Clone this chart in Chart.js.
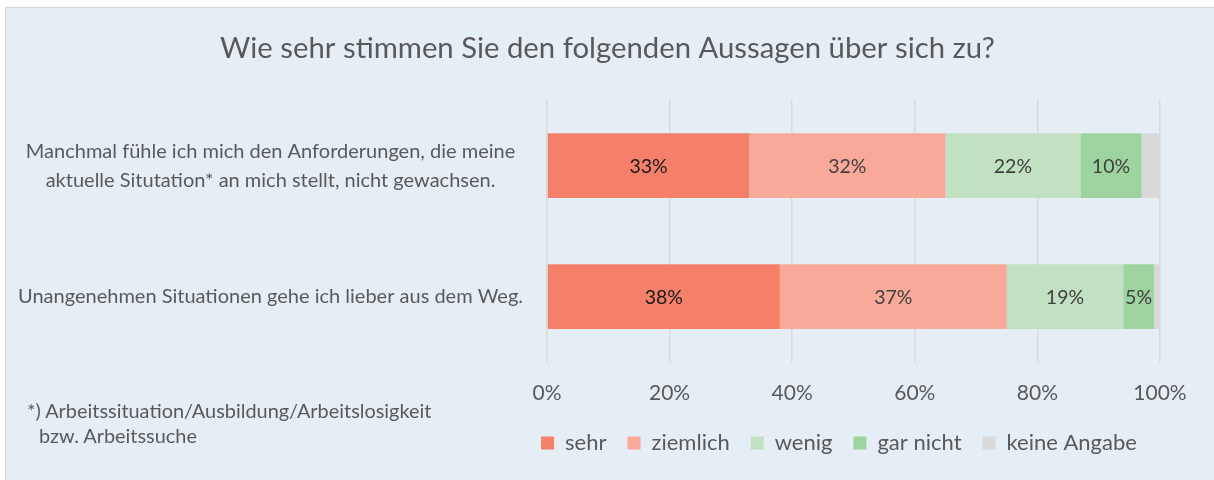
<!DOCTYPE html>
<html>
<head>
<meta charset="utf-8">
<script src="https://cdn.jsdelivr.net/npm/chart.js@4/dist/chart.umd.min.js"></script>
<style>
    html, body { margin: 0; padding: 0; background: #ffffff; }
    #wrap {
        position: absolute; left: 5px; top: 7px; width: 1208px; height: 472px;
        background: #e6eef5; border-top: 1px solid #d6d6d6; border-left: 1px solid #d6d6d6;
    }
    #footnote {
        position: absolute; left: 21px; top: 390px;
        font-family: 'Lato', sans-serif; font-size: 19.9px; line-height: 25px; color: #595959;
    }
    #footnote span { padding-left: 12px; }
</style>
</head>
<body>
<div id="wrap">
    <canvas id="surveyChart" width="1208" height="472"></canvas>
    <div id="footnote">*) Arbeitssituation/Ausbildung/Arbeitslosigkeit<br><span>bzw. Arbeitssuche</span></div>
</div>
<script>
// Chart data
const statements = [
    ['Manchmal fühle ich mich den Anforderungen, die meine', 'aktuelle Situtation* an mich stellt, nicht gewachsen.'],
    'Unangenehmen Situationen gehe ich lieber aus dem Weg.'
];
const sehr = [33, 38];
const ziemlich = [32, 37];
const wenig = [22, 19];
const garNicht = [10, 5];
const keineAngabe = [3, 1];
const xTicks = [0, 20, 40, 60, 80, 100];

const textGrey = '#595959';
Chart.defaults.font.family = 'Lato';

// Draws the percentage values inside the bars
const barLabels = {
    id: 'barLabels',
    afterDatasetsDraw(chart) {
        const ctx = chart.ctx;
        ctx.save();
        ctx.font = '19.5px Lato';
        ctx.textAlign = 'center';
        ctx.textBaseline = 'middle';
        chart.data.datasets.forEach((ds, i) => {
            if (ds.hideLabel) return;
            const meta = chart.getDatasetMeta(i);
            meta.data.forEach((bar, j) => {
                ctx.fillStyle = ds.labelColor;
                ctx.fillText(ds.data[j] + '%', (bar.x + bar.base) / 2, bar.y + 1);
            });
        });
        ctx.restore();
    }
};

// Title centred on the whole box, legend centred under the bars
const boxPlacement = {
    id: 'boxPlacement',
    afterLayout(chart) {
        chart.titleBlock.left = 0;
        chart.titleBlock.right = 1203;
        chart.titleBlock.width = 1203;
        const cx = 833;
        chart.legend.left = cx - 320;
        chart.legend.right = cx + 320;
        chart.legend.width = 640;
    }
};

new Chart(document.getElementById('surveyChart'), {
    type: 'bar',
    data: {
        labels: statements,
        datasets: [
            { label: 'sehr', data: sehr, backgroundColor: '#f5806a', labelColor: '#1a1a1a' },
            { label: 'ziemlich', data: ziemlich, backgroundColor: '#f8a999', labelColor: '#404040' },
            { label: 'wenig', data: wenig, backgroundColor: '#c2e0c2', labelColor: '#404040' },
            { label: 'gar nicht', data: garNicht, backgroundColor: '#9dd39e', labelColor: '#404040' },
            { label: 'keine Angabe', data: keineAngabe, backgroundColor: '#d9d9d9', hideLabel: true }
        ]
    },
    options: {
        indexAxis: 'y',
        responsive: false,
        animation: false,
        barPercentage: 0.5,
        categoryPercentage: 0.99,
        layout: { padding: { left: 0, right: 54, top: 0, bottom: 16 } },
        plugins: {
            title: {
                display: true,
                text: 'Wie sehr stimmen Sie den folgenden Aussagen über sich zu?',
                color: textGrey,
                font: { size: 29.3, weight: 'normal' },
                padding: { top: 23, bottom: 34 }
            },
            legend: {
                position: 'bottom',
                labels: {
                    color: textGrey,
                    boxWidth: 13,
                    boxHeight: 13,
                    padding: 21,
                    font: { size: 22 }
                }
            },
            tooltip: { enabled: false }
        },
        scales: {
            x: {
                stacked: true,
                min: 0,
                max: 100,
                afterBuildTicks: (scale) => { scale.ticks = xTicks.map(v => ({ value: v })); },
                afterFit: (scale) => { scale.height = 49; },
                grid: { color: '#d9d9d9', lineWidth: 1.5, drawTicks: false },
                border: { display: false },
                ticks: {
                    color: textGrey,
                    padding: 19,
                    font: { size: 21 },
                    callback: (v) => v + '%'
                }
            },
            y: {
                stacked: true,
                afterFit: (scale) => { scale.width = 541; },
                grid: { display: false },
                border: { display: false },
                ticks: {
                    color: textGrey,
                    crossAlign: 'center',
                    padding: 16,
                    font: { size: 20, lineHeight: 1.45 }
                }
            }
        }
    },
    plugins: [barLabels, boxPlacement]
});
</script>
</body>
</html>
